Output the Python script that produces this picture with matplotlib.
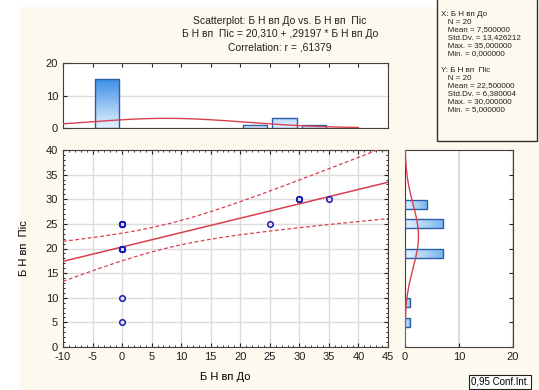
import numpy as np
import matplotlib
matplotlib.use('Agg')
from matplotlib import pyplot as plt
from matplotlib.patches import Rectangle
from matplotlib.colors import LinearSegmentedColormap

plt.rcParams['font.family'] = ['Liberation Sans', 'DejaVu Sans']
plt.rcParams['axes.unicode_minus'] = False

# data: 20 pairs (Б Н вп До, Б Н вп Пiс)
x_do = np.array([0] * 15 + [25, 30, 30, 30, 35], dtype=float)
y_pis = np.array([5, 10] + [20] * 7 + [25] * 6 + [25, 30, 30, 30, 30], dtype=float)

title_lines = ["Scatterplot: Б Н вп До vs. Б Н вп  Пiс",
               "Б Н вп  Пiс = 20,310 + ,29197 * Б Н вп До",
               "Correlation: r = ,61379"]
stats_lines = ["X: Б Н вп До", "   N = 20", "   Mean = 7,500000", "   Std.Dv. = 13,426212",
               "   Max. = 35,000000", "   Min. = 0,000000", "",
               "Y: Б Н вп  Пiс", "   N = 20", "   Mean = 22,500000", "   Std.Dv. = 6,380004",
               "   Max. = 30,000000", "   Min. = 5,000000"]
x_ticks = np.arange(-10, 46, 5)
y_ticks = np.arange(0, 41, 5)
t_crit = 2.1009  # t(0.975, df=18)

W, H = 539, 390
def px(l, t, r, b):
    return [l / W, (H - b) / H, (r - l) / W, (b - t) / H]

fig = plt.figure(figsize=(W / 100, H / 100), dpi=100)
fig.patch.set_facecolor('white')
fig.add_artist(Rectangle((20 / W, 0), 1, (H - 7) / H, transform=fig.transFigure,
                         facecolor='#fdf9ee', edgecolor='none', zorder=-10))

spine_c = '#404040'
grid_c = '#dcdcdc'
edge_blue = '#2a5fa8'
red = '#d8404e'

def grad_bar(ax, x0, y0, w, h, cmap, vertical=True):
    g = np.linspace(0, 1, 64)
    g = g.reshape(-1, 1) if vertical else g.reshape(1, -1)
    im = ax.imshow(g, extent=[x0, x0 + w, y0, y0 + h], origin='lower', aspect='auto',
                   cmap=cmap, zorder=2)
    r = Rectangle((x0, y0), w, h, facecolor='none', edgecolor=edge_blue, lw=1, zorder=3)
    ax.add_patch(r)
    im.set_clip_path(r)

cm_top = LinearSegmentedColormap.from_list('t', ['#e6f2fe', '#3d8fe6'])
cm_small = LinearSegmentedColormap.from_list('s', ['#e9f4ff', '#b8d9fa'])
cm_right = LinearSegmentedColormap.from_list('r', ['#e6f2fe', '#7ab6ee'])

def style(ax):
    for s in ax.spines.values():
        s.set_color(spine_c)
    ax.set_facecolor('white')
    ax.tick_params(colors='#202020', labelsize=8, direction='in', length=3, width=0.8)

n = len(x_do)
mx, my = x_do.mean(), y_pis.mean()
sx, sy = x_do.std(ddof=1), y_pis.std(ddof=1)
sxx = ((x_do - mx) ** 2).sum()
b1 = ((x_do - mx) * (y_pis - my)).sum() / sxx
b0 = my - b1 * mx
s_res = np.sqrt(((y_pis - b0 - b1 * x_do) ** 2).sum() / (n - 2))

# main scatter
ax = fig.add_axes(px(63, 150, 388, 347))
style(ax)
ax.set_xlim(-10, 45)
ax.set_ylim(0, 40)
ax.set_xticks(x_ticks)
ax.set_yticks(y_ticks)
ax.set_xticks(np.arange(-10, 46, 1), minor=True)
ax.set_yticks(np.arange(0, 41, 1), minor=True)
ax.tick_params(which='minor', direction='in', length=1.5, width=0.6, top=True, right=True)
ax.tick_params(which='major', top=True, right=True)
ax.grid(True, color=grid_c, lw=1)
ax.set_axisbelow(True)
xx = np.linspace(-10, 45, 200)
yy = b0 + b1 * xx
hw = t_crit * s_res * np.sqrt(1 / n + (xx - mx) ** 2 / sxx)
ax.plot(xx, yy, color=red, lw=1.1, zorder=3)
ax.plot(xx, yy + hw, color=red, lw=0.9, ls=(0, (3, 2)), zorder=3)
ax.plot(xx, yy - hw, color=red, lw=0.9, ls=(0, (3, 2)), zorder=3)
ax.plot(x_do, y_pis, 'o', mfc='none', mec='#1a1ab8', ms=4, mew=1.1, zorder=4, clip_on=False)
ax.set_xlabel("Б Н вп До", fontsize=8, labelpad=7)
ax.set_ylabel("Б Н вп  Пiс", fontsize=8, labelpad=12)

# top histogram
axt = fig.add_axes(px(63, 63, 388, 128))
style(axt)
axt.set_xlim(-10, 45)
axt.set_ylim(0, 20)
axt.set_yticks([0, 10, 20])
axt.set_xticks(x_ticks)
axt.tick_params(labelbottom=False, top=True, bottom=False)
axt.yaxis.grid(True, color=grid_c, lw=1)
axt.set_axisbelow(True)
edges = np.arange(-10, 46, 5)
for lo, hi in zip(edges[:-1], edges[1:]):
    c = int(((x_do > lo) & (x_do <= hi)).sum())
    if c:
        grad_bar(axt, lo + 0.45, 0, 4.1, c, cm_top if c > 5 else cm_small)
xc = np.linspace(-10, 40, 200)
axt.plot(xc, n * 5 * np.exp(-0.5 * ((xc - mx) / sx) ** 2) / (sx * np.sqrt(2 * np.pi)),
         color=red, lw=1, zorder=4)

# right histogram
axr = fig.add_axes(px(405, 150, 513, 347))
style(axr)
axr.set_xlim(0, 20)
axr.set_ylim(0, 40)
axr.set_xticks([0, 10, 20])
axr.set_yticks(y_ticks)
axr.tick_params(labelleft=False, left=False, right=True)
axr.xaxis.grid(True, color=grid_c, lw=1.5)
axr.set_axisbelow(True)
redges = np.arange(0, 41, 2)
for lo, hi in zip(redges[:-1], redges[1:]):
    c = int(((y_pis > lo) & (y_pis <= hi)).sum())
    if c:
        grad_bar(axr, 0, lo + 0.1, c, 1.8, cm_right, vertical=False)
yc = np.linspace(0, 40, 200)
axr.plot(n * 2 * np.exp(-0.5 * ((yc - my) / sy) ** 2) / (sy * np.sqrt(2 * np.pi)), yc,
         color=red, lw=1, zorder=4)

# titles
for i, line in enumerate(title_lines):
    fig.text(280 / W, 1 - (21 + 13.2 * i) / H, line, ha='center', va='center', fontsize=7.5,
             color='#202020')

# stats box
fig.add_artist(Rectangle((437 / W, 1 - 141 / H), 100 / W, 150 / H, transform=fig.transFigure,
                         facecolor='#fdf9ee', edgecolor='#303030', lw=1))
for i, line in enumerate(stats_lines):
    fig.text(441 / W, 1 - (14 + 8 * i) / H, line, ha='left', va='center', fontsize=5.8,
             color='#202020')

fig.text(500 / W, 1 - 382 / H, "0,95 Conf.Int.", ha='center', va='center', fontsize=7,
         bbox=dict(boxstyle='square,pad=0.25', facecolor='white', edgecolor='#202020', lw=0.8))

fig.savefig('out.png', dpi=100, facecolor=fig.get_facecolor())
